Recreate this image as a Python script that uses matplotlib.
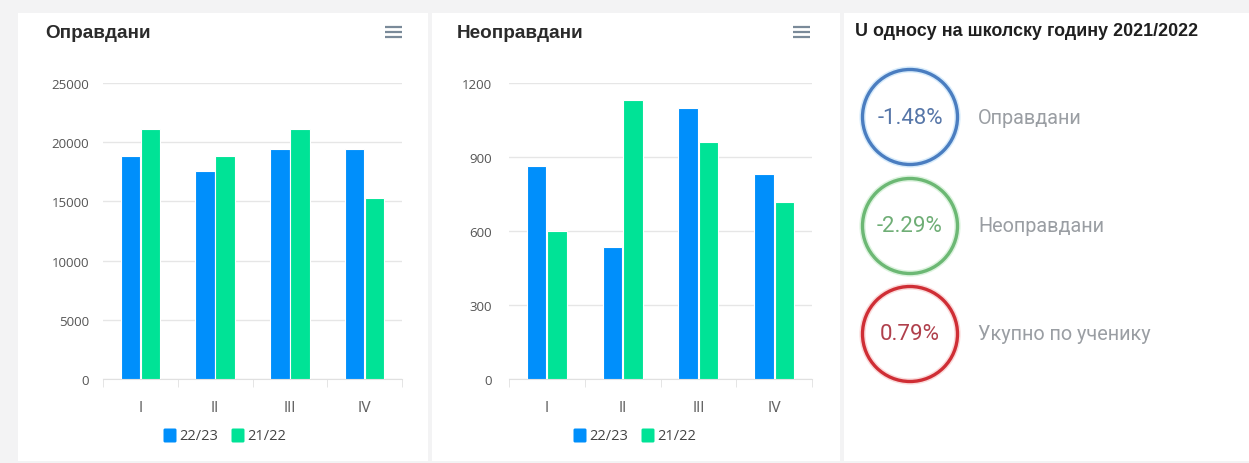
import matplotlib.pyplot as plt
from matplotlib.patches import Rectangle, Circle, FancyBboxPatch

plt.rcParams['font.family'] = ['Roboto', 'DejaVu Sans']

quarters = ['I', 'II', 'III', 'IV']
opravdani_2223 = [18860, 17600, 19430, 19430]
opravdani_2122 = [21110, 18860, 21110, 15260]
neopravdani_2223 = [865, 536, 1097, 830]
neopravdani_2122 = [599, 1131, 959, 719]
series_names = ['22/23', '21/22']

change_values = ['-1.48%', '-2.29%', '0.79%']
change_labels = ['Оправдани', 'Неоправдани', 'Укупно по ученику']

BLUE = '#008ffb'
GREEN = '#00e396'
W, H = 1249, 464

fig = plt.figure(figsize=(W / 100, H / 100), dpi=100)
fig.set_facecolor('#f3f3f4')

# background layer in pixel coords
bg = fig.add_axes([0, 0, 1, 1])
bg.set_xlim(0, W)
bg.set_ylim(H, 0)
bg.axis('off')
for x0, x1 in [(18, 428), (432, 840), (844, 1249)]:
    bg.add_patch(Rectangle((x0, 14), x1 - x0, 448, facecolor='white', edgecolor='none'))

bold = ['Liberation Sans', 'DejaVu Sans']
bg.text(45, 33, 'Оправдани', fontsize=13.6, fontweight='bold', color='#2b2b2b', va='center', family=bold)
bg.text(457, 33, 'Неоправдани', fontsize=13.6, fontweight='bold', color='#2b2b2b', va='center', family=bold)
bg.text(855, 32, 'U односу на школску годину 2021/2022', fontsize=12.9, fontweight='bold',
        color='#1f1f1f', va='center', family=bold)

# hamburger menus
for xm in [385, 793]:
    for ym in [28, 33, 38]:
        bg.plot([xm, xm + 17], [ym, ym], color='#7a8a99', lw=1.6, solid_capstyle='butt')

# change circles
ring_cols = ['#4a7dc0', '#6cb874', '#cf2e35']
text_cols = ['#5676a8', '#6fae76', '#b0404c']
glow_cols = ['#d6ebfb', '#dcf3de', '#fadada']
centers_y = [118, 227, 335]
for val, lab, rc, tc, gc, cy in zip(change_values, change_labels, ring_cols, text_cols, glow_cols, centers_y):
    bg.add_patch(Circle((910, cy), 47.5, facecolor='white', edgecolor=gc, lw=4.5))
    bg.add_patch(Circle((910, cy), 47.5, facecolor='none', edgecolor=rc, lw=2.4))
    bg.text(910, cy, val, fontsize=16, color=tc, ha='center', va='center')
    bg.text(978, cy, lab, fontsize=14.3, color='#9a9ea3', ha='left', va='center')


def bar_panel(left, right, top, bottom, v1, v2, ymax, step, ypad, leg_x):
    ax = fig.add_axes([left / W, 1 - bottom / H, (right - left) / W, (bottom - top) / H])
    x = range(len(quarters))
    ax.bar([i - 0.135 for i in x], v1, width=0.26, color=BLUE, edgecolor='white', lw=0.8, zorder=3)
    ax.bar([i + 0.135 for i in x], v2, width=0.26, color=GREEN, edgecolor='white', lw=0.8, zorder=3)
    ax.set_xlim(-0.5, len(quarters) - 0.5)
    ax.set_ylim(0, ymax)
    yt = list(range(0, ymax + 1, step))
    ax.set_yticks(yt)
    ax.set_yticklabels([str(v) for v in yt], fontfamily=['Open Sans', 'DejaVu Sans'])
    ax.set_xticks(list(x))
    ax.set_xticklabels(quarters)
    ax.set_xticks([i - 0.5 for i in range(len(quarters) + 1)], minor=True)
    ax.grid(axis='y', color='#e6e6e6', lw=1, zorder=0)
    for s in ['top', 'right', 'left']:
        ax.spines[s].set_visible(False)
    ax.spines['bottom'].set_color('#e0e0e0')
    ax.tick_params(axis='y', length=0, labelsize=9.5, labelcolor='#555555', pad=ypad)
    ax.tick_params(axis='x', which='major', length=0, labelsize=11, labelcolor='#666666', pad=15)
    ax.tick_params(axis='x', which='minor', length=6, color='#e0e0e0')

    # legend: rounded squares + labels, pixel coords on background layer
    xs = leg_x
    for name, col in zip(series_names, [BLUE, GREEN]):
        bg.add_patch(FancyBboxPatch((xs + 2, 431), 10, 11, boxstyle='round,pad=1.5',
                                    facecolor=col, edgecolor='none'))
        bg.text(xs + 16, 437, name, fontsize=10.5, color='#444444', va='center',
                family=['Open Sans', 'DejaVu Sans'])
        xs += 68
    return ax


bar_panel(103, 402, 84, 380, opravdani_2223, opravdani_2122, 25000, 5000, 10, 163)
bar_panel(509, 812, 84, 380, neopravdani_2223, neopravdani_2122, 1200, 300, 12, 573)

plt.savefig('out.png', dpi=100)
